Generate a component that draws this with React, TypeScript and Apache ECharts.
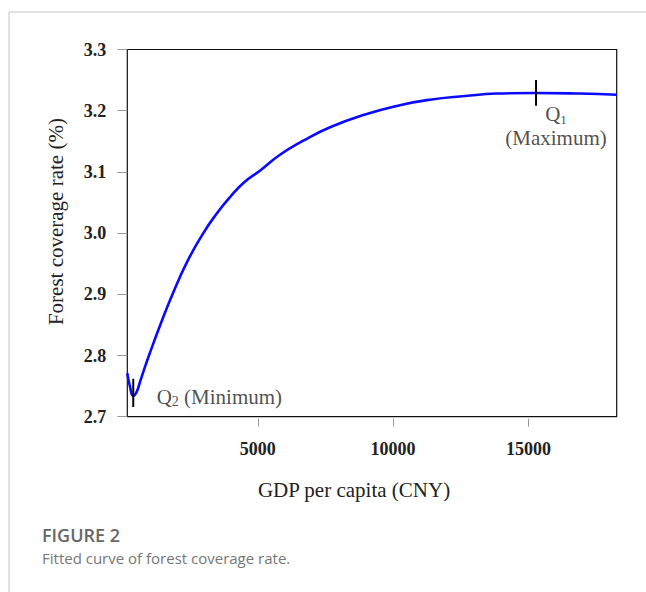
import React, { useEffect, useRef } from "react";
import * as echarts from "echarts";

// Fitted curve: GDP per capita (CNY) vs forest coverage rate (%)
const gdpPerCapita = [
  180, 280, 400, 530, 650, 800, 980, 1390, 1850, 2390, 2990, 3450, 3980, 4500, 5080, 5820,
  6680, 7670, 8900, 10250, 11360, 12660, 13830, 15280, 16900, 18260,
];
const coverageRate = [
  2.771, 2.749, 2.734, 2.741, 2.757, 2.777, 2.8, 2.849, 2.9, 2.953, 3.0, 3.03, 3.059,
  3.083, 3.102, 3.128, 3.151, 3.173, 3.193, 3.209, 3.218, 3.224, 3.228, 3.229, 3.228, 3.226,
];

const xTicks = [5000, 10000, 15000];
const yTicks = [2.7, 2.8, 2.9, 3.0, 3.1, 3.2, 3.3];

// Turning points of the curve: maximum Q1 and minimum Q2
const q1 = { gdp: 15280, rate: 3.229 };
const q2 = { gdp: 400, rate: 2.734 };
const markerHalf = { q1: 0.021, q2: 0.023 };

const xName = "GDP per capita (CNY)";
const yName = "Forest coverage rate (%)";
const figureTitle = "FIGURE 2";
const figureCaption = "Fitted curve of forest coverage rate.";

const SERIF = '"Liberation Serif", "Times New Roman", serif';
const SANS = '"Open Sans", "Noto Sans", sans-serif';

export default function App() {
  const ref = useRef<HTMLDivElement>(null);

  useEffect(() => {
    if (!ref.current) return;
    const chart = echarts.init(ref.current, null, { renderer: "svg" });
    const curve = gdpPerCapita.map((g, i) => [g, coverageRate[i]]);

    chart.setOption({
      animation: false,
      backgroundColor: "#ffffff",
      grid: {
        left: 127.3,
        right: 29.3,
        top: 49.5,
        bottom: 175.3,
        show: true,
        borderColor: "#111",
        borderWidth: 1.2,
        backgroundColor: "transparent",
      },
      xAxis: {
        type: "value",
        min: gdpPerCapita[0],
        max: gdpPerCapita[gdpPerCapita.length - 1],
        offset: 2,
        axisLine: { show: false },
        splitLine: { show: false },
        axisTick: {
          show: true,
          length: 8,
          customValues: xTicks,
          lineStyle: { color: "#999", width: 1 },
        },
        axisLabel: {
          customValues: xTicks,
          margin: 21,
          fontFamily: SERIF,
          fontWeight: "bold",
          fontSize: 18,
          color: "#222",
          formatter: (v: number) => String(Math.round(v)),
        },
        name: xName,
        nameLocation: "middle",
        nameGap: 61,
        nameTextStyle: {
          fontFamily: SERIF,
          fontSize: 21,
          color: "#222",
          padding: [0, 36, 0, 0],
        },
      },
      yAxis: {
        type: "value",
        min: 2.7,
        max: 3.3,
        interval: 0.1,
        axisLine: { show: false },
        splitLine: { show: false },
        axisTick: {
          show: true,
          length: 10,
          lineStyle: { color: "#999", width: 1 },
        },
        axisLabel: {
          margin: 21,
          fontFamily: SERIF,
          fontWeight: "bold",
          fontSize: 18,
          color: "#222",
          formatter: (v: number) => {
            const t = yTicks.find((y) => Math.abs(y - v) < 1e-6);
            return t === undefined ? "" : t.toFixed(1);
          },
        },
        name: yName,
        nameLocation: "middle",
        nameGap: 61,
        nameTextStyle: {
          fontFamily: SERIF,
          fontSize: 21,
          color: "#222",
          padding: [0, 0, 0, 23],
        },
      },
      series: [
        {
          type: "line",
          data: curve,
          smooth: 0.5,
          showSymbol: false,
          lineStyle: { color: "#0a0aff", width: 2.6 },
          z: 3,
        },
        {
          type: "line",
          data: [
            [q1.gdp, q1.rate - markerHalf.q1],
            [q1.gdp, q1.rate + markerHalf.q1],
          ],
          showSymbol: false,
          lineStyle: { color: "#000", width: 2 },
          z: 4,
        },
        {
          type: "line",
          data: [
            [q2.gdp, q2.rate - markerHalf.q2 + 0.005],
            [q2.gdp, q2.rate + markerHalf.q2 + 0.005],
          ],
          showSymbol: false,
          lineStyle: { color: "#000", width: 2 },
          z: 4,
        },
        {
          type: "scatter",
          symbolSize: 0,
          data: [[16017, 3.175]],
          label: {
            show: true,
            position: "inside",
            align: "center",
            formatter: "{m|Q}{s|1}\n{m|(Maximum)}",
            rich: {
              m: { fontFamily: SERIF, fontSize: 21, color: "#222", lineHeight: 24 },
              s: {
                fontFamily: SERIF,
                fontSize: 13,
                color: "#222",
                lineHeight: 24,
                verticalAlign: "bottom",
              },
            },
          },
        },
        {
          type: "scatter",
          symbolSize: 0,
          data: [[1266, 2.733]],
          label: {
            show: true,
            position: "right",
            distance: 0,
            formatter: "{m|Q}{s|2}{m| (Minimum)}",
            rich: {
              m: { fontFamily: SERIF, fontSize: 21, color: "#222", lineHeight: 24 },
              s: {
                fontFamily: SERIF,
                fontSize: 14,
                color: "#222",
                lineHeight: 24,
                verticalAlign: "bottom",
              },
            },
          },
        },
      ],
      graphic: [
        {
          type: "line",
          shape: { x1: 9, y1: 12, x2: 646, y2: 12 },
          style: { stroke: "#d8d8d8", lineWidth: 1.5 },
        },
        {
          type: "line",
          shape: { x1: 9, y1: 12, x2: 9, y2: 592 },
          style: { stroke: "#d8d8d8", lineWidth: 1.5 },
        },
        {
          type: "text",
          left: 42,
          top: 526,
          style: {
            text: figureTitle,
            fontFamily: SANS,
            fontWeight: 600,
            fontSize: 18,
            fill: "#666",
          },
        },
        {
          type: "text",
          left: 42,
          top: 550,
          style: {
            text: figureCaption,
            fontFamily: SANS,
            fontSize: 15,
            fill: "#777",
          },
        },
      ],
    });

    return () => chart.dispose();
  }, []);

  return (
    <div
      ref={ref}
      style={{ position: "absolute", left: 0, top: 0, width: 646, height: 592 }}
    />
  );
}
